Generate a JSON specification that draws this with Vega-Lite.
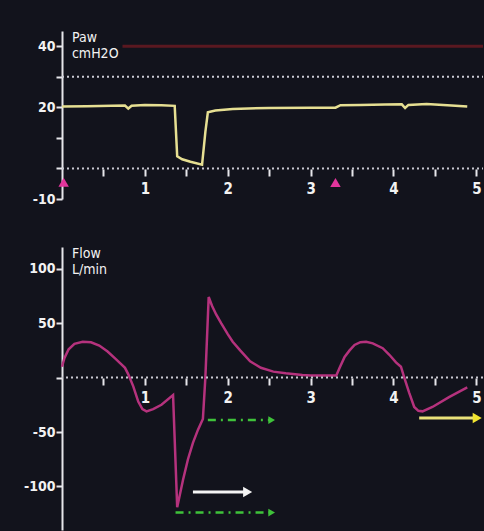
{
  "$schema": "https://vega.github.io/schema/vega-lite/v6.json",
  "background": "#12131c",
  "padding": {"left": 22, "top": 31, "right": 1, "bottom": 1},
  "bounds": "flush",
  "spacing": 48,
  "config": {
    "view": {"stroke": null},
    "axis": {
      "domainColor": "#e6e6ea",
      "domainWidth": 2,
      "tickColor": "#e6e6ea",
      "tickWidth": 2,
      "labelColor": "#f2f2f2",
      "labelFont": "DejaVu Sans Condensed",
      "labelFontWeight": "bold",
      "labelFontSize": 14,
      "grid": false,
      "title": null,
      "labelOverlap": false
    }
  },
  "datasets": {
    "paw": [
      {"t": 0.0, "paw": 20.3}, {"t": 0.3, "paw": 20.4}, {"t": 0.6, "paw": 20.5}, {"t": 0.76, "paw": 20.6},
      {"t": 0.8, "paw": 19.6}, {"t": 0.84, "paw": 20.5}, {"t": 1.0, "paw": 20.8}, {"t": 1.2, "paw": 20.7},
      {"t": 1.36, "paw": 20.5}, {"t": 1.39, "paw": 4.0}, {"t": 1.45, "paw": 3.0}, {"t": 1.55, "paw": 2.2},
      {"t": 1.69, "paw": 1.2}, {"t": 1.73, "paw": 12.0}, {"t": 1.76, "paw": 18.4}, {"t": 1.85, "paw": 19.0},
      {"t": 2.06, "paw": 19.5}, {"t": 2.5, "paw": 19.8}, {"t": 3.0, "paw": 19.9}, {"t": 3.3, "paw": 19.9},
      {"t": 3.36, "paw": 20.7}, {"t": 3.6, "paw": 20.8}, {"t": 3.9, "paw": 20.9}, {"t": 4.1, "paw": 21.0},
      {"t": 4.14, "paw": 19.8}, {"t": 4.18, "paw": 20.8}, {"t": 4.4, "paw": 21.1}, {"t": 4.7, "paw": 20.6},
      {"t": 4.89, "paw": 20.3}
    ],
    "flow": [
      {"t": 0.0, "flow": 10}, {"t": 0.03, "flow": 18}, {"t": 0.08, "flow": 26}, {"t": 0.15, "flow": 31},
      {"t": 0.25, "flow": 33}, {"t": 0.35, "flow": 32.5}, {"t": 0.45, "flow": 29.5}, {"t": 0.55, "flow": 24},
      {"t": 0.65, "flow": 17}, {"t": 0.72, "flow": 12}, {"t": 0.76, "flow": 9}, {"t": 0.8, "flow": 3},
      {"t": 0.86, "flow": -8}, {"t": 0.92, "flow": -22}, {"t": 0.97, "flow": -29}, {"t": 1.02, "flow": -31},
      {"t": 1.1, "flow": -29}, {"t": 1.2, "flow": -25}, {"t": 1.34, "flow": -16}, {"t": 1.39, "flow": -119},
      {"t": 1.46, "flow": -94}, {"t": 1.52, "flow": -75}, {"t": 1.58, "flow": -60}, {"t": 1.64, "flow": -48},
      {"t": 1.7, "flow": -38}, {"t": 1.73, "flow": 0}, {"t": 1.77, "flow": 74}, {"t": 1.81, "flow": 66},
      {"t": 1.86, "flow": 58}, {"t": 1.92, "flow": 50}, {"t": 2.0, "flow": 40}, {"t": 2.06, "flow": 33},
      {"t": 2.15, "flow": 25}, {"t": 2.27, "flow": 15}, {"t": 2.4, "flow": 9}, {"t": 2.55, "flow": 5.5},
      {"t": 2.7, "flow": 4}, {"t": 2.9, "flow": 2.5}, {"t": 3.0, "flow": 2}, {"t": 3.31, "flow": 2},
      {"t": 3.35, "flow": 9}, {"t": 3.41, "flow": 19}, {"t": 3.47, "flow": 25}, {"t": 3.53, "flow": 30},
      {"t": 3.6, "flow": 32.5}, {"t": 3.67, "flow": 33}, {"t": 3.75, "flow": 31.5}, {"t": 3.87, "flow": 27},
      {"t": 3.95, "flow": 21}, {"t": 4.03, "flow": 14}, {"t": 4.09, "flow": 10}, {"t": 4.13, "flow": 0},
      {"t": 4.19, "flow": -14}, {"t": 4.25, "flow": -27}, {"t": 4.3, "flow": -30.5}, {"t": 4.35, "flow": -31},
      {"t": 4.47, "flow": -27}, {"t": 4.67, "flow": -18}, {"t": 4.89, "flow": -9}
    ],
    "pawGrid": [{"t": 0, "paw": 0}, {"t": 0, "paw": 30}],
    "pawAlarm": [{"t": 0.73, "paw": 40}],
    "pawLabel": [{"t": 0.12, "paw": 45}],
    "flowGrid": [{"v": 0}],
    "triggers": [{"t": 0.02, "paw": -4.5}, {"t": 3.3, "paw": -4.6}],
    "one": [{}]
  },
  "vconcat": [
    {
      "width": 421,
      "height": 168,
      "encoding": {
        "x": {
          "field": "t", "type": "quantitative",
          "scale": {"domain": [0, 5.08], "nice": false, "zero": false},
          "axis": {
            "values": [0.5, 1, 1.5, 2, 2.5, 3, 3.5, 4, 4.5, 5],
            "labelExpr": "datum.value % 1 == 0 ? '' + datum.value : ''",
            "domain": false, "tickSize": 7, "labelPadding": 5, "offset": -30, "labelFontSize": 15, "labelOverlap": false
          }
        },
        "y": {
          "field": "paw", "type": "quantitative",
          "scale": {"domain": [-10, 45], "nice": false, "zero": false},
          "axis": {
            "values": [-10, 0, 10, 20, 30, 40],
            "labelExpr": "indexof([40, 20, -10], datum.value) >= 0 ? '' + datum.value : ''",
            "tickSize": 6, "labelPadding": 1, "minExtent": 40, "maxExtent": 40, "labelOverlap": false
          }
        }
      },
      "layer": [
        {
          "data": {"name": "pawGrid"},
          "mark": {"type": "rule", "color": "#c9c9d2", "strokeWidth": 2, "strokeDash": [2, 3]},
          "encoding": {"x2": {"datum": 5.08}}
        },
        {
          "data": {"name": "pawAlarm"},
          "mark": {"type": "rule", "color": "#5a1820", "strokeWidth": 3},
          "encoding": {"x2": {"datum": 5.08}}
        },
        {
          "data": {"name": "paw"},
          "mark": {"type": "line", "color": "#e6df92", "strokeWidth": 2.5}
        },
        {
          "data": {"name": "triggers"},
          "mark": {"type": "point", "shape": "triangle-up", "filled": true, "color": "#e2359c", "size": 110, "opacity": 1}
        },
        {
          "data": {"name": "pawLabel"},
          "mark": {"type": "text", "text": ["Paw", "cmH2O"], "align": "left", "baseline": "top", "color": "#f2f2f2", "font": "DejaVu Sans Condensed", "fontSize": 14, "lineHeight": 16}
        }
      ]
    },
    {
      "width": 421,
      "height": 283,
      "layer": [
        {
          "data": {"name": "flow"},
          "mark": {"type": "line", "color": "#b5327d", "strokeWidth": 2.5},
          "encoding": {
            "x": {
              "field": "t", "type": "quantitative",
              "scale": {"domain": [0, 5.08], "nice": false, "zero": false},
              "axis": {
                "values": [0.5, 1, 1.5, 2, 2.5, 3, 3.5, 4, 4.5, 5],
                "labelExpr": "datum.value % 1 == 0 ? '' + datum.value : ''",
                "domain": false, "tickSize": 7, "labelPadding": 5, "offset": -152, "labelFontSize": 15
              }
            },
            "y": {
              "field": "flow", "type": "quantitative",
              "scale": {"domain": [-140, 120], "nice": false, "zero": false},
              "axis": {
                "values": [-100, -50, 0, 50, 100],
                "labelExpr": "datum.value == 0 ? '' : '' + datum.value",
                "tickSize": 6, "labelPadding": 1, "minExtent": 40, "maxExtent": 40
              }
            }
          }
        },
        {
          "data": {"name": "flowGrid"},
          "mark": {"type": "rule", "color": "#c9c9d2", "strokeWidth": 2, "strokeDash": [2, 3]},
          "encoding": {"y": {"field": "v", "type": "quantitative"}}
        },
        {
          "data": {"name": "one"},
          "mark": {"type": "rule", "color": "#3fc23a", "strokeWidth": 2.5, "strokeDash": [8, 5, 2, 5]},
          "encoding": {
            "x": {"datum": 1.76, "type": "quantitative"},
            "x2": {"datum": 2.5},
            "y": {"datum": -39, "type": "quantitative"}
          }
        },
        {
          "data": {"name": "one"},
          "mark": {"type": "rule", "color": "#3fc23a", "strokeWidth": 2.5, "strokeDash": [8, 5, 2, 5]},
          "encoding": {
            "x": {"datum": 1.37, "type": "quantitative"},
            "x2": {"datum": 2.5},
            "y": {"datum": -124, "type": "quantitative"}
          }
        },
        {
          "data": {"name": "one"},
          "mark": {"type": "point", "shape": "triangle-right", "filled": true, "color": "#3fc23a", "size": 60, "opacity": 1},
          "encoding": {
            "x": {"datum": 2.53, "type": "quantitative"},
            "y": {"datum": -39, "type": "quantitative"}
          }
        },
        {
          "data": {"name": "one"},
          "mark": {"type": "point", "shape": "triangle-right", "filled": true, "color": "#3fc23a", "size": 60, "opacity": 1},
          "encoding": {
            "x": {"datum": 2.53, "type": "quantitative"},
            "y": {"datum": -124, "type": "quantitative"}
          }
        },
        {
          "data": {"name": "one"},
          "mark": {"type": "rule", "color": "#f4f4f4", "strokeWidth": 3},
          "encoding": {
            "x": {"datum": 1.58, "type": "quantitative"},
            "x2": {"datum": 2.2},
            "y": {"datum": -105, "type": "quantitative"}
          }
        },
        {
          "data": {"name": "one"},
          "mark": {"type": "point", "shape": "triangle-right", "filled": true, "color": "#f4f4f4", "size": 110, "opacity": 1},
          "encoding": {
            "x": {"datum": 2.24, "type": "quantitative"},
            "y": {"datum": -105, "type": "quantitative"}
          }
        },
        {
          "data": {"name": "one"},
          "mark": {"type": "rule", "color": "#e9e27a", "strokeWidth": 3},
          "encoding": {
            "x": {"datum": 4.31, "type": "quantitative"},
            "x2": {"datum": 4.98},
            "y": {"datum": -37, "type": "quantitative"}
          }
        },
        {
          "data": {"name": "one"},
          "mark": {"type": "point", "shape": "triangle-right", "filled": true, "color": "#f2e531", "size": 110, "opacity": 1},
          "encoding": {
            "x": {"datum": 5.01, "type": "quantitative"},
            "y": {"datum": -37, "type": "quantitative"}
          }
        },
        {
          "data": {"name": "one"},
          "mark": {"type": "text", "text": ["Flow", "L/min"], "align": "left", "baseline": "top", "color": "#f2f2f2", "font": "DejaVu Sans Condensed", "fontSize": 14, "lineHeight": 16},
          "encoding": {
            "x": {"datum": 0.12, "type": "quantitative"},
            "y": {"datum": 120, "type": "quantitative"}
          }
        }
      ]
    }
  ]
}
